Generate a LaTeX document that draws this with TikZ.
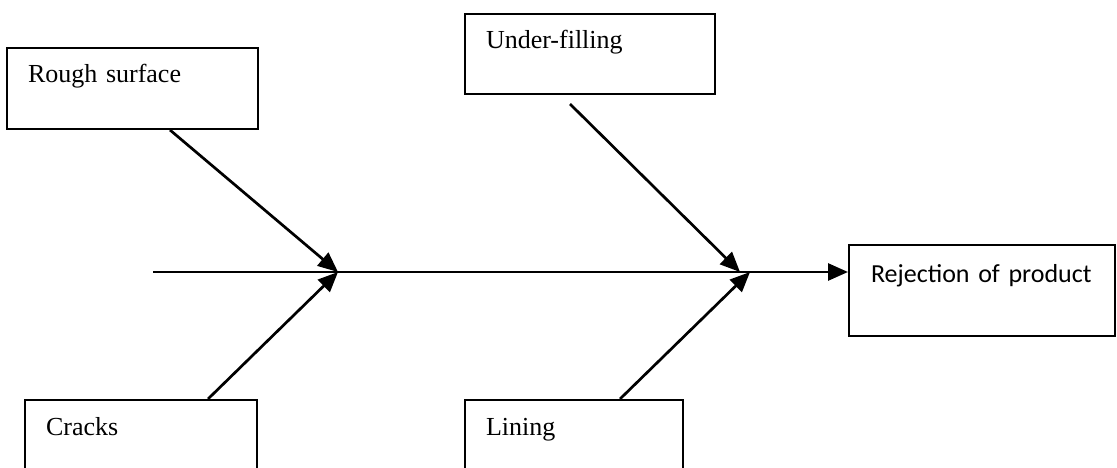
\documentclass[tikz,border=0pt]{standalone}
\usepackage{fontspec}
\setmainfont{Liberation Serif}
\newfontfamily\calibri{Carlito}
\usetikzlibrary{arrows.meta}
\tikzstyle{cause} = [rectangle, draw=black, line width=2pt, anchor=north west, align=left,
inner xsep=21pt, inner ysep=0pt, text height=35pt, font=\fontsize{26}{31}\selectfont]
\tikzstyle{bone} = [line width=2.7pt, -{Triangle[length=20pt, width=17pt]}]

\begin{document}
\begin{tikzpicture}[x=1pt, y=-1pt]

    \clip (0,0) rectangle (1117,468);

    \node (rough) [cause, text width=209pt, text depth=46pt] at (6,47) {Rough surface};

    \node (under) [cause, text width=208pt, text depth=45pt] at (464,13) {Under-filling};

    \node (cracks) [cause, text width=190pt, text depth=70pt] at (24,399) {Cracks};

    \node (lining) [cause, text width=176pt, text depth=70pt] at (464,399) {Lining};

    \node (reject) [cause, text width=222pt, inner xsep=22pt, text height=37pt, text depth=54pt,
        font=\calibri\fontsize{26}{31}\selectfont] at (848,244) {Rejection of product};

    \coordinate (tail) at (153,272);
    \coordinate (j1) at (338,272);
    \coordinate (j2) at (745,272);

    \draw[bone] (tail) -- (tail -| reject.west);
    \draw[bone] ([xshift=164pt]rough.south west) -- (j1);
    \draw[bone] ([xshift=184pt]cracks.north west) -- (j1);
    \draw[bone] ([xshift=106pt, yshift=-9pt]under.south west) -- ([xshift=-5pt]j2);
    \draw[bone] ([xshift=156pt]lining.north west) -- ([xshift=5pt]j2);

\end{tikzpicture}
\end{document}
